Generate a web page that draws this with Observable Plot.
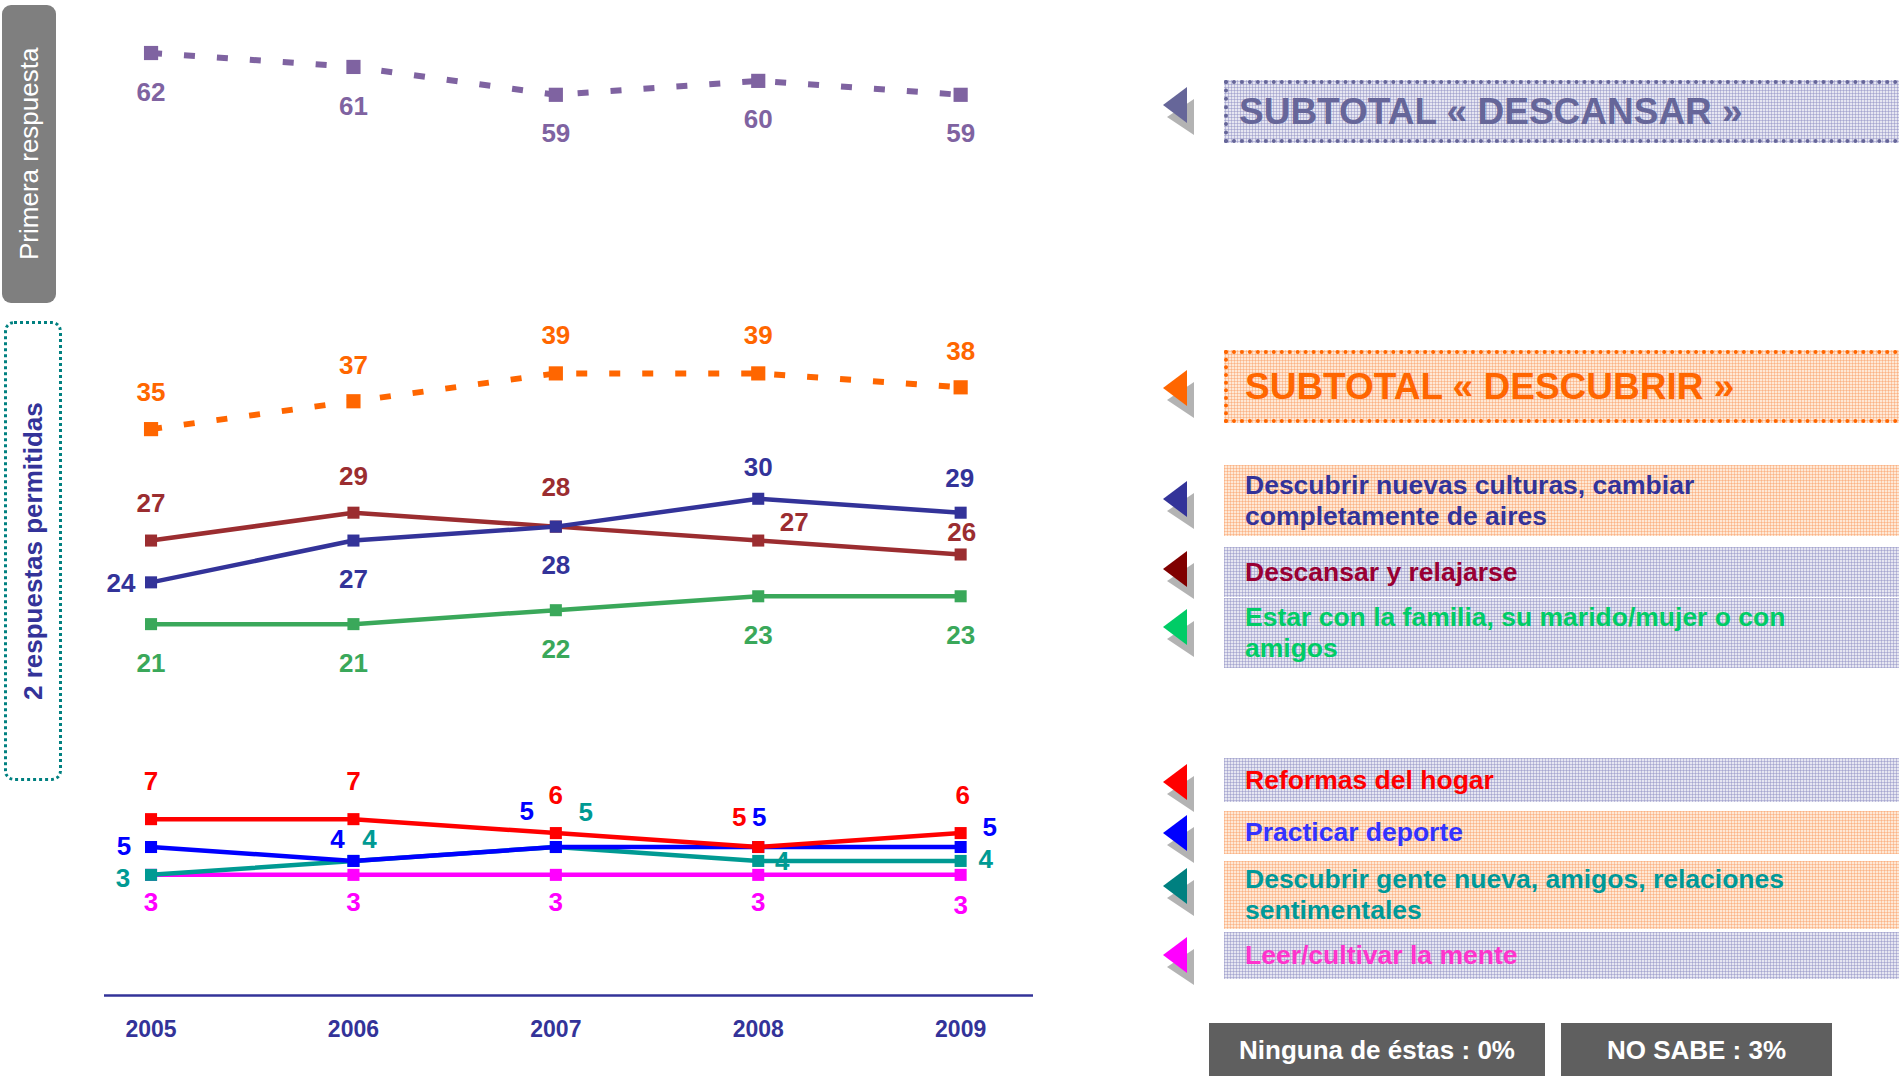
<!DOCTYPE html>
<html><head><meta charset="utf-8">
<script src="https://cdn.jsdelivr.net/npm/d3@7"></script>
<script src="https://cdn.jsdelivr.net/npm/@observablehq/plot@0.6"></script>
<style>
html,body{margin:0;padding:0;width:1899px;height:1076px;overflow:hidden;background:#fff;}
body{position:relative;font-family:"Liberation Sans",Arial,sans-serif;}
.bold{font-family:"Liberation Sans",Arial,sans-serif;font-weight:bold;}
#chart{position:absolute;left:0;top:0;}
#chart svg{overflow:visible;}
.abs{position:absolute;box-sizing:border-box;}
.lav{background-color:#e6e6f1;background-image:linear-gradient(rgba(140,140,195,0.45) 1px,transparent 1px),linear-gradient(90deg,rgba(140,140,195,0.45) 1px,transparent 1px);background-size:3px 3px;}
.peach{background-color:#fee8d6;background-image:linear-gradient(rgba(250,150,90,0.40) 1px,transparent 1px),linear-gradient(90deg,rgba(250,150,90,0.40) 1px,transparent 1px);background-size:3px 3px;}
.leg{display:flex;align-items:center;padding-left:21px;font-size:26.5px;line-height:31px;}
.vtext{writing-mode:vertical-rl;transform:rotate(180deg);display:flex;align-items:center;justify-content:center;width:100%;height:100%;}
.gbox{background:#5f5f5f;color:#fff;font-size:26px;display:flex;align-items:center;justify-content:center;padding-bottom:6px;}
</style>
</head><body>
<div id="chart"></div>
<div id="side"></div>
<script>
// ---------------- data ----------------
const years = [2005, 2006, 2007, 2008, 2009];
const subtotalDescansar = [62, 61, 59, 60, 59];
const subtotalDescubrir = [35, 37, 39, 39, 38];
const nuevasCulturas = [24, 27, 28, 30, 29];
const descansarRelajarse = [27, 29, 28, 27, 26];
const estarFamilia = [21, 21, 22, 23, 23];
const reformasHogar = [7, 7, 6, 5, 6];
const practicarDeporte = [5, 4, 5, 5, 5];
const genteNueva = [3, 4, 5, 4, 4];
const leerMente = [3, 3, 3, 3, 3];

const legendLabels = [
  "SUBTOTAL « DESCANSAR »",
  "SUBTOTAL « DESCUBRIR »",
  "Descubrir nuevas culturas, cambiar<br>completamente de aires",
  "Descansar y relajarse",
  "Estar con la familia, su marido/mujer o con<br>amigos",
  "Reformas del hogar",
  "Practicar deporte",
  "Descubrir gente nueva, amigos, relaciones<br>sentimentales",
  "Leer/cultivar la mente"
];
const sideLabels = ["Primera respuesta", "2 respuestas permitidas"];
const otherAnswers = ["Ninguna de éstas : 0%", "NO SABE : 3%"];

// ---------------- styling ----------------
const FONT = '"Liberation Sans",Arial,sans-serif';
const series = [
  {key:"descansarSub", values:subtotalDescansar, color:"#7f63a1", dashed:true},
  {key:"descubrirSub", values:subtotalDescubrir, color:"#ff6600", dashed:true},
  {key:"relajarse", values:descansarRelajarse, color:"#9b2d30"},
  {key:"culturas", values:nuevasCulturas, color:"#333399"},
  {key:"familia", values:estarFamilia, color:"#3aa85a"},
  {key:"leer", values:leerMente, color:"#ff00ff"},
  {key:"gente", values:genteNueva, color:"#009a93"},
  {key:"deporte", values:practicarDeporte, color:"#0000ff"},
  {key:"reformas", values:reformasHogar, color:"#ff0000"}
];
// label offsets (px) relative to each point
const labelOffsets = {
  descansarSub:[[0,40],[0,40],[0,39],[0,39],[0,39]],
  descubrirSub:[[0,-36],[0,-36],[0,-38],[0,-38],[0,-36]],
  culturas:[[-30,1],[0,39],[0,39],[0,-31],[-1,-34]],
  relajarse:[[0,-37],[0,-36],[0,-39],[36,-18],[1,-22]],
  familia:[[0,40],[0,40],[0,39],[0,39],[0,39]],
  reformas:[[0,-37],[0,-37],[0,-37],[-19,-29],[2,-37]],
  deporte:[[-27,0],[-16,-21],[-29,-35],[1,-29],[29,-19]],
  gente:[[-28,4],[16,-21],[30,-34],[24,1],[25,-1]],
  leer:[[0,28],[0,28],[0,28],[0,28],[0,31]]
};

// ---------------- chart ----------------
const yMin = -5.66, yMax = 65.77;
const marks = [];
marks.push(Plot.ruleY([yMin], {stroke:"#333399", strokeWidth:2.5}));
for (const s of series) {
  const rows = years.map((yr, i) => ({year: yr, value: s.values[i]}));
  marks.push(Plot.line(rows, {
    x:"year", y:"value", stroke:s.color,
    strokeWidth: s.dashed ? 6 : 4.5,
    strokeDasharray: s.dashed ? "11,22" : null,
    strokeLinecap:"butt"
  }));
  marks.push(Plot.dot(rows, {x:"year", y:"value", symbol:"square", r: s.dashed ? 8 : 6.8, fill:s.color, stroke:"none"}));
}
for (const s of series) {
  years.forEach((yr, i) => {
    const [dx, dy] = labelOffsets[s.key][i];
    marks.push(Plot.text([{year: yr, value: s.values[i]}], {
      x:"year", y:"value", text: d => String(d.value), dx, dy,
      fill: s.color, fontSize: 26, fontWeight:"bold", fontFamily: FONT
    }));
  });
}
marks.push(Plot.axisX(years, {
  tickSize:0, tickPadding:25, fontSize:23, fontWeight:"bold", fill:"#333399",
  fontFamily: FONT, tickFormat: d => String(d), label:null
}));

const plot = Plot.plot({
  width:1040, height:1076,
  marginTop:0, marginBottom:81, marginLeft:104, marginRight:7,
  x:{type:"linear", domain:[2004.77, 2009.36]},
  y:{domain:[yMin, yMax], axis:null},
  marks
});
document.getElementById("chart").appendChild(plot);

// ---------------- side panels ----------------
const side = document.getElementById("side");
function el(html){ const d=document.createElement("div"); d.innerHTML=html; const n=d.firstElementChild; side.appendChild(n); return n; }

el(`<div class="abs" style="left:2px;top:5px;width:54px;height:298px;background:#7f7f7f;border-radius:9px;color:#fff;font-size:26px;"><div class="vtext">${sideLabels[0]}</div></div>`);
el(`<div class="abs" style="left:4px;top:321px;width:58px;height:460px;border:3px dotted #008080;border-radius:10px;color:#333399;font-size:26px;font-weight:bold;"><div class="vtext">${sideLabels[1]}</div></div>`);

const arrowColors = ["#666699","#ff6600","#333399","#800000","#00cc66","#ff0000","#0000ff","#008080","#ff00ff"];
const arrowY = [105, 388, 499, 569, 627, 782, 833, 886, 955];
arrowY.forEach((cy, i) => {
  el(`<svg class="abs" style="left:1160px;top:${cy-20}px" width="40" height="60"><polygon points="7,32 34,14 34,50" fill="#b3b3b3"/><polygon points="3,20 27,2 27,38" fill="${arrowColors[i]}"/></svg>`);
});

const boxes = [
  {top:80, h:63, cls:"lav", color:"#666699", extra:"border:4px dotted #666699;font-size:37px;padding-left:11px;"},
  {top:350, h:73, cls:"peach", color:"#ff6600", extra:"border:4px dotted #ff6600;font-size:37px;padding-left:17px;"},
  {top:465, h:71, cls:"peach", color:"#333399", extra:""},
  {top:547, h:50, cls:"lav", color:"#990033", extra:""},
  {top:598, h:70, cls:"lav", color:"#00cc66", extra:""},
  {top:758, h:44, cls:"lav", color:"#ff0000", extra:""},
  {top:811, h:43, cls:"peach", color:"#3333ff", extra:""},
  {top:861, h:68, cls:"peach", color:"#009999", extra:""},
  {top:932, h:47, cls:"lav", color:"#ff33cc", extra:""}
];
boxes.forEach((b, i) => {
  el(`<div class="abs bold leg ${b.cls}" style="left:1224px;top:${b.top}px;width:690px;height:${b.h}px;color:${b.color};${b.extra}"><span>${legendLabels[i]}</span></div>`);
});

el(`<div class="abs bold gbox" style="left:1209px;top:1023px;width:336px;height:60px;">${otherAnswers[0]}</div>`);
el(`<div class="abs bold gbox" style="left:1561px;top:1023px;width:271px;height:60px;">${otherAnswers[1]}</div>`);
</script>
</body></html>
